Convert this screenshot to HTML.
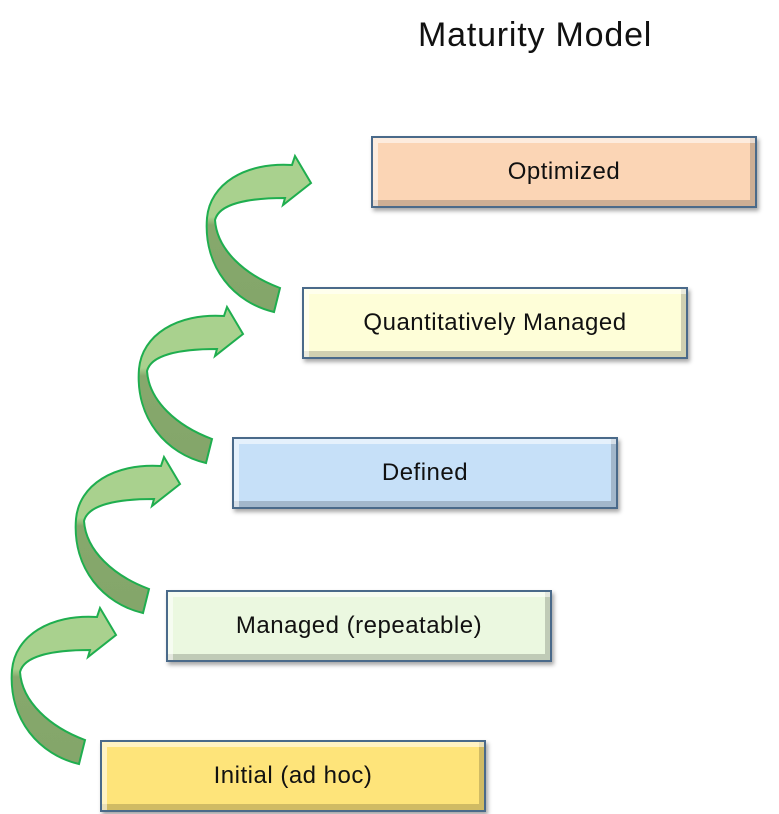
<!DOCTYPE html>
<html><head><style>
body{margin:0;width:779px;height:814px;background:#fff;position:relative;overflow:hidden;font-family:"Liberation Sans",sans-serif}
.t{position:absolute;left:418px;top:16px;font-size:34px;letter-spacing:0.8px;color:#111;white-space:nowrap}
.b{position:absolute;box-sizing:border-box;width:386px;height:72px;border:2px solid #4a6a8a;display:flex;align-items:center;justify-content:center;font-size:24px;letter-spacing:0.5px;color:#111;white-space:nowrap;
box-shadow:inset 5px 5px 0 rgba(255,255,255,.55),inset -5px -6px 0 rgba(0,0,0,.18),2px 3px 4px rgba(0,0,0,.35)}
</style></head><body>
<div class="t">Maturity Model</div>
<div class="b" style="left:371px;top:136px;background:#fbd5b5">Optimized</div>
<div class="b" style="left:302px;top:287px;background:#fefed8">Quantitatively Managed</div>
<div class="b" style="left:232px;top:437px;background:#c6e0f8">Defined</div>
<div class="b" style="left:166px;top:590px;background:#ebf8e0">Managed (repeatable)</div>
<div class="b" style="left:100px;top:740px;background:#fee47a">Initial (ad hoc)</div>
<svg width="779" height="814" style="position:absolute;left:0;top:0">
<defs>
<linearGradient id="g" x1="0" y1="605" x2="0" y2="765" gradientUnits="userSpaceOnUse">
<stop offset="0" stop-color="#a9d18e"/><stop offset="0.4" stop-color="#a9d18e"/><stop offset="0.45" stop-color="#86a86c"/><stop offset="1" stop-color="#84a66a"/></linearGradient>
<g id="a"><path d="M85,740 C50,727 22,702 20,672 C24,656 52,650 90,650 L88,657 L116,635 L100,608 L97,617 C50,614 15,636 12,670 C8,720 40,755 79,764 Z" fill="url(#g)" stroke="#1fae4f" stroke-width="2" stroke-linejoin="miter"/></g>
</defs>
<use href="#a"/>
<use href="#a" transform="translate(64,-151)"/>
<use href="#a" transform="translate(127,-301)"/>
<use href="#a" transform="translate(195,-452)"/>
</svg>
</body></html>
